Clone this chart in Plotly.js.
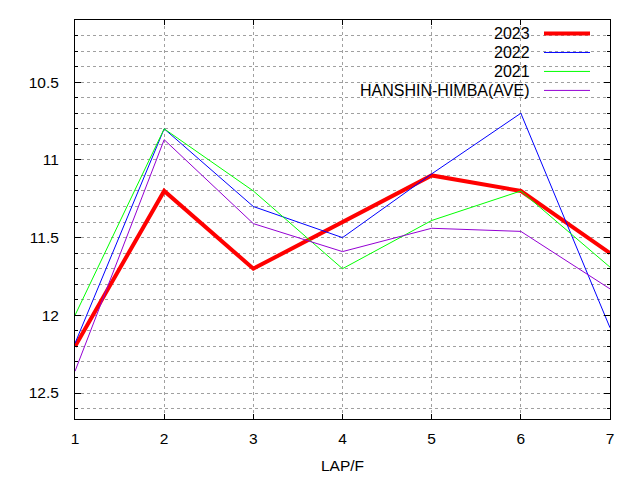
<!DOCTYPE html>
<html>
<head>
<meta charset="utf-8">
<script src="https://cdn.plot.ly/plotly-3.0.1.min.js"></script>
<style>html,body{margin:0;padding:0;background:#fff;}#chart{width:640px;height:480px;}</style>
</head>
<body>
<div id="chart"></div>
<script>
const laps = [1, 2, 3, 4, 5, 6, 7];
const names = ["2023", "2022", "2021", "HANSHIN-HIMBA(AVE)"];
const y2023 = [12.2, 11.2, 11.7, 11.4, 11.1, 11.2, 11.6];
const y2022 = [12.18, 10.8, 11.3, 11.5, 11.09, 10.7, 12.08];
const y2021 = [12.0, 10.8, 11.2, 11.7, 11.39, 11.2, 11.69];
const yAve = [12.36, 10.87, 11.41, 11.59, 11.44, 11.46, 11.83];

const colors = ["#ff0000", "#0000ff", "#00ff00", "#9400d3"];
const widths = [4, 1, 1, 1];
const series = [y2023, y2022, y2021, yAve];

const L = 75, R = 610, T = 19.5, B = 419;
const px = v => (v - L) / (R - L);
const py = v => (B - v) / (B - T);

const traces = series.map((ys, i) => ({
  x: laps, y: ys, type: "scatter", mode: "lines", name: names[i],
  line: { color: colors[i], width: widths[i] }, showlegend: false
}));

const font = { family: "Liberation Sans, Arial, sans-serif", size: 16, color: "#000" };
const tickFont = { family: "Liberation Sans, Arial, sans-serif", size: 15.5, color: "#000" };
const gridStyle = { gridcolor: "#a0a0a0", griddash: "3px,3px", gridwidth: 1 };

const shapes = [{
  type: "rect", xref: "paper", yref: "paper", layer: "between",
  x0: px(353), x1: px(598), y0: py(103), y1: 1,
  fillcolor: "#ffffff", line: { width: 0 }
}];
const annotations = [];
const rowY = [33, 52, 71, 90];
names.forEach((n, i) => {
  annotations.push({
    xref: "paper", yref: "paper", x: px(532), y: py(rowY[i]),
    xanchor: "right", yanchor: "middle", text: n, showarrow: false, font: font
  });
  shapes.push({
    type: "line", xref: "paper", yref: "paper", layer: "above",
    x0: px(544), x1: px(590), y0: py(rowY[i]), y1: py(rowY[i]),
    line: { color: colors[i], width: widths[i] }
  });
});

const layout = {
  width: 640, height: 480,
  margin: { l: L, r: 640 - R, t: T, b: 480 - B },
  paper_bgcolor: "#fff", plot_bgcolor: "#fff",
  font: font, showlegend: false,
  xaxis: Object.assign({
    range: [1, 7], dtick: 1, tick0: 1, showgrid: true, zeroline: false,
    showline: true, linecolor: "#000", linewidth: 1, mirror: "ticks",
    ticks: "inside", ticklen: 5, tickcolor: "#000",
    ticklabelstandoff: 5, tickfont: tickFont,
    title: { text: "LAP/F", font: tickFont, standoff: 14 }
  }, gridStyle),
  yaxis: Object.assign({
    range: [12.667, 10.1], autorange: false, dtick: 0.5, tick0: 10.5,
    showgrid: true, zeroline: false,
    showline: true, linecolor: "#000", linewidth: 1, mirror: "ticks",
    ticks: "inside", ticklen: 6, tickcolor: "#000",
    ticklabelstandoff: 12, tickfont: tickFont,
    minor: Object.assign({ dtick: 0.1, tick0: 10.5, showgrid: true, ticks: "inside", ticklen: 3, tickcolor: "#000" }, gridStyle)
  }, gridStyle),
  shapes: shapes, annotations: annotations
};

Plotly.newPlot("chart", traces, layout, { staticPlot: true, displayModeBar: false });
</script>
</body>
</html>
